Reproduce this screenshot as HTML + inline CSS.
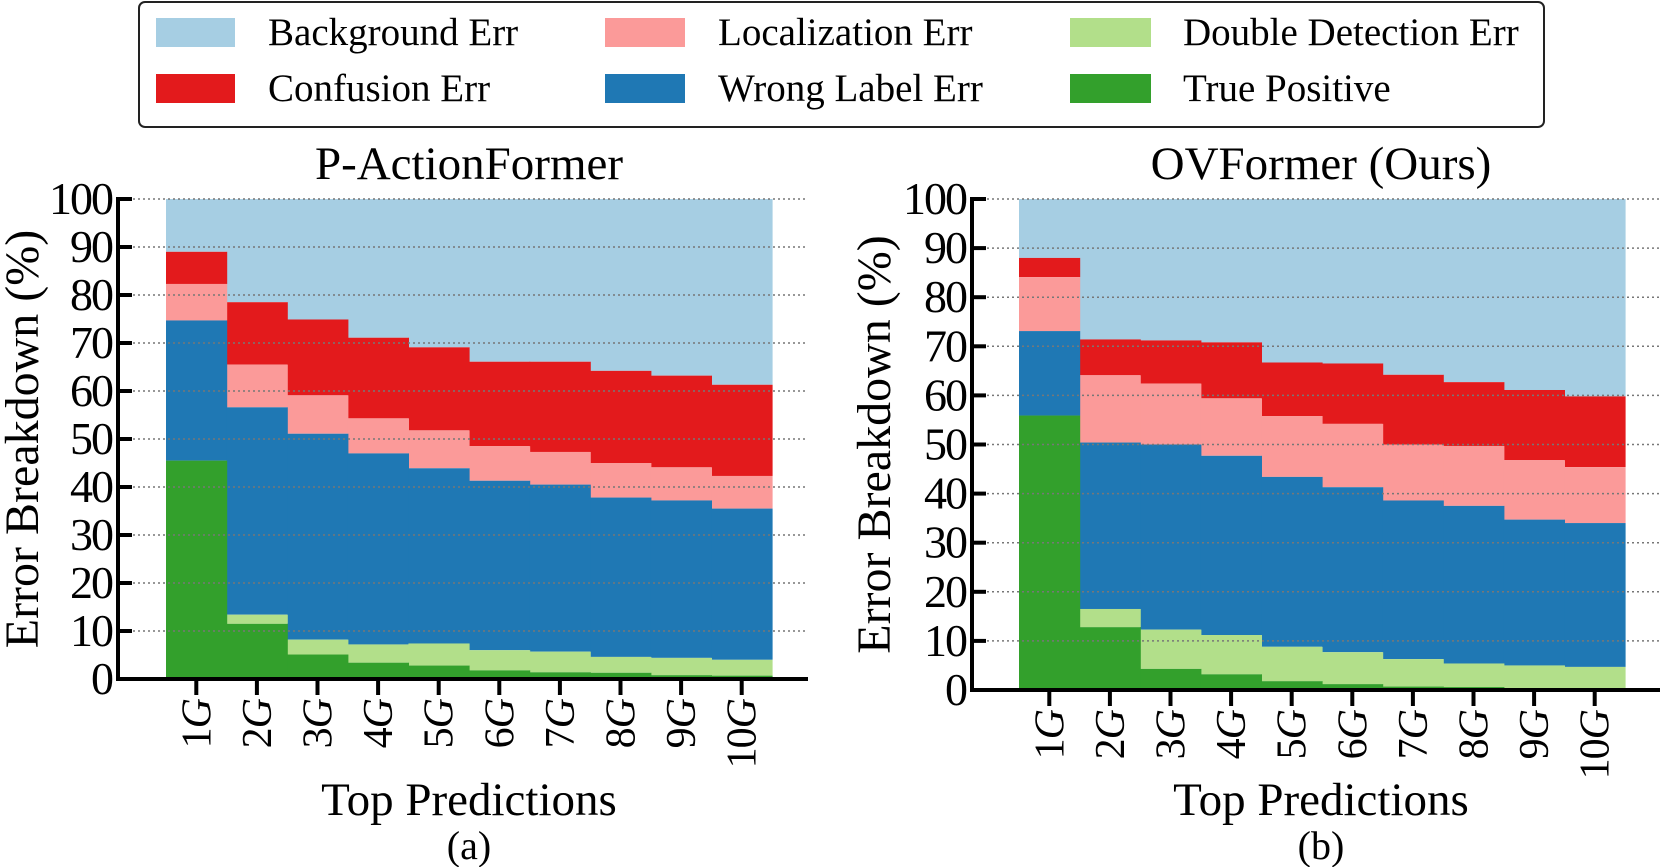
<!DOCTYPE html>
<html><head><meta charset="utf-8"><style>
body{margin:0;background:#fff}
svg{display:block}
svg text{font-family:"Liberation Serif","DejaVu Serif",serif}
</style></head><body>
<svg id="fig" width="1660" height="867" viewBox="0 0 1660 867" xmlns="http://www.w3.org/2000/svg" font-family="Liberation Serif, DejaVu Serif, serif">
<g>
<rect x="139" y="2" width="1405" height="125" rx="6" fill="#fff" stroke="#222" stroke-width="2"/>
<g><rect x="156" y="18" width="79" height="29" fill="#a6cee3"/><text x="268" y="45" font-size="39">Background Err</text></g>
<g><rect x="605" y="18" width="80" height="29" fill="#fb9a99"/><text x="718" y="45" font-size="39">Localization Err</text></g>
<g><rect x="1070" y="18" width="81" height="29" fill="#b2df8a"/><text x="1183" y="45" font-size="39">Double Detection Err</text></g>
<g><rect x="156" y="74" width="79" height="29" fill="#e31a1c"/><text x="268" y="101" font-size="39">Confusion Err</text></g>
<g><rect x="605" y="74" width="80" height="29" fill="#1f78b4"/><text x="718" y="101" font-size="39">Wrong Label Err</text></g>
<g><rect x="1070" y="74" width="81" height="29" fill="#33a02c"/><text x="1183" y="101" font-size="39">True Positive</text></g>
</g>
</svg>
<script>
const categories = ["1","2","3","4","5","6","7","8","9","10"];
const yTicks = [0,10,20,30,40,50,60,70,80,90,100];
// cumulative stack tops (%) for P-ActionFormer
const aTruePos = [45.5,11.5,5.1,3.4,2.8,1.8,1.4,1.3,0.8,0.7];
const aDouble = [45.5,13.4,8.2,7.2,7.4,6.0,5.7,4.6,4.4,4.0];
const aWrong = [74.7,56.6,51.1,47.0,43.9,41.3,40.5,37.8,37.2,35.5];
const aLocal = [82.3,65.5,59.1,54.3,51.8,48.5,47.3,45.0,44.1,42.3];
const aConf = [89.0,78.5,74.9,71.1,69.1,66.1,66.1,64.2,63.2,61.3];
// cumulative stack tops (%) for OVFormer
const bTruePos = [55.9,12.8,4.3,3.2,1.8,1.2,0.7,0.6,0.4,0.3];
const bDouble = [55.9,16.5,12.3,11.2,8.8,7.7,6.3,5.4,5.0,4.7];
const bWrong = [73.1,50.4,50.0,47.7,43.4,41.3,38.6,37.5,34.7,34.0];
const bLocal = [84.1,64.1,62.4,59.4,55.8,54.2,50.0,49.7,46.8,45.4];
const bConf = [88.0,71.4,71.2,70.8,66.7,66.5,64.2,62.7,61.1,59.8];

const NS="http://www.w3.org/2000/svg";
const svg=document.getElementById('fig');
function mk(tag,attrs,parent){const e=document.createElementNS(NS,tag);for(const k in attrs)e.setAttribute(k,attrs[k]);(parent||svg).appendChild(e);return e;}

function drawChart(cfg){
  const g=mk('g',{});
  
  
  const y=v=>cfg.y0-(cfg.y0-cfg.y100)*v/100;
  const bw=(cfg.x1-cfg.x0)/categories.length;
  const x=i=>cfg.x0+i*bw;
  const layers=[
    {top:null,bot:cfg.conf,color:'#a6cee3',n:'background'},
    {top:cfg.conf,bot:cfg.local,color:'#e31a1c',n:'confusion'},
    {top:cfg.local,bot:cfg.wrong,color:'#fb9a99',n:'localization'},
    {top:cfg.wrong,bot:cfg.dbl,color:'#1f78b4',n:'wrong-label'},
    {top:cfg.dbl,bot:cfg.tp,color:'#b2df8a',n:'double-detection'},
    {top:cfg.tp,bot:null,color:'#33a02c',n:'true-positive'}];
  layers.forEach(L=>{
    categories.forEach((c,i)=>{
      const t=L.top?L.top[i]:100, b=L.bot?L.bot[i]:0;
      const r=mk('rect',{x:x(i),y:y(t),width:bw+0.6,height:Math.max(0,y(b)-y(t)),fill:L.color},g);
      
      
    });
  });
  yTicks.forEach(v=>{
    if(v===0)return;
    const l=mk('line',{x1:cfg.ax,x2:cfg.axEnd,y1:y(v),y2:y(v),stroke:'#777','stroke-width':1.5,'stroke-dasharray':'2,3'},g);
    
    
    const tk=mk('line',{x1:cfg.ax,x2:cfg.ax+14,y1:y(v),y2:y(v),stroke:'#000','stroke-width':4},g);
    
    
  });
  yTicks.forEach(v=>{
    const t=mk('text',{x:cfg.ax-6,y:y(v)+15,'text-anchor':'end','font-size':46,'letter-spacing':-2},g);
    t.textContent=v;
    
    
  });
  const ya=mk('line',{x1:cfg.ax,x2:cfg.ax,y1:y(100)-2,y2:cfg.y0+2,stroke:'#000','stroke-width':4},g);
  
  
  const xa=mk('line',{x1:cfg.ax-2,x2:cfg.axEnd,y1:cfg.y0,y2:cfg.y0,stroke:'#000','stroke-width':4},g);
  
  
  categories.forEach((c,i)=>{
    const cx=x(i)+bw/2;
    const tk=mk('line',{x1:cx,x2:cx,y1:cfg.y0,y2:cfg.y0+16,stroke:'#000','stroke-width':4},g);
    
    
    const t=mk('text',{x:0,y:0,'text-anchor':'end','font-size':42,'letter-spacing':-1,transform:`translate(${cx+14},${cfg.y0+20}) rotate(-90)`},g);
    t.textContent=c;
    const it=mk('tspan',{'font-style':'italic'},t);
    it.textContent='G';
    
    
  });
  const ti=mk('text',{x:cfg.titleX,y:179,'text-anchor':'middle','font-size':47},g);
  ti.textContent=cfg.title;
  
  
  const yl=mk('text',{x:0,y:0,'text-anchor':'middle','font-size':48,transform:`translate(${cfg.ylX},${(y(100)+cfg.y0)/2}) rotate(-90)`},g);
  yl.textContent='Error Breakdown (%)';
  
  
  const xl=mk('text',{x:cfg.titleX,y:815,'text-anchor':'middle','font-size':47},g);
  xl.textContent='Top Predictions';
  
  
  const cap=mk('text',{x:cfg.titleX,y:859,'text-anchor':'middle','font-size':40},g);
  cap.textContent=cfg.caption;
  
  
}
drawChart({name:'chart-p-actionformer',title:'P-ActionFormer',caption:'(a)',ax:118,axEnd:808,x0:166,x1:772,y0:679,y100:199,titleX:469,ylX:38,
  tp:aTruePos,dbl:aDouble,wrong:aWrong,local:aLocal,conf:aConf});
drawChart({name:'chart-ovformer',title:'OVFormer (Ours)',caption:'(b)',ax:972,axEnd:1660,x0:1019,x1:1625,y0:690,y100:199,titleX:1321,ylX:890,
  tp:bTruePos,dbl:bDouble,wrong:bWrong,local:bLocal,conf:bConf});
</script>
</body></html>
